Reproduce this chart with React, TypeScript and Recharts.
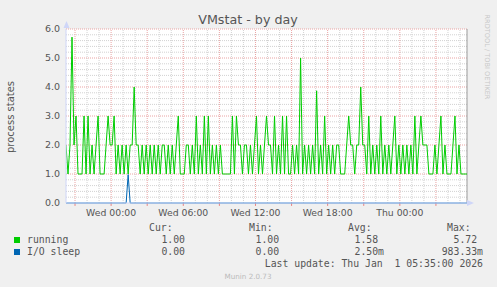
import { LineChart, Line, XAxis, YAxis, ReferenceLine } from "recharts";

// running processes, one sample every 10 minutes, from Tue 20:15 to Thu 05:35
const STEP = 10;
const running = [
  2, 1, 2, 5.72, 2, 3, 1, 1, 1, 3, 1, 3, 1, 2, 1, 2, 3, 1, 1, 1,
  2, 3, 2, 2, 3, 1, 2, 1, 2, 1, 2, 1, 2, 2, 4, 2, 2, 1, 2, 1,
  2, 1, 2, 1, 2, 1, 2, 1, 2, 2, 1, 2, 1, 2, 1, 2, 3, 1, 1, 1,
  2, 2, 1, 2, 1, 3, 1, 2, 1, 3, 1, 3, 1, 2, 1, 2, 1, 2, 1, 1,
  1, 1, 1, 3, 1, 3, 2, 2, 1, 2, 2, 1, 2, 1, 2, 3, 1, 2, 1, 2,
  3, 2, 2, 1, 3, 1, 2, 1, 3, 1, 3, 1, 1, 2, 1, 2, 1, 5, 1, 2,
  1, 2, 1, 2, 1, 3.87, 1, 2, 1, 3, 1, 2, 1, 2, 1, 2, 2, 1, 1, 1,
  2, 3, 2, 2, 1, 2, 2, 4, 2, 2, 1, 3, 1, 2, 1, 2, 1, 3, 1, 2,
  1, 2, 1, 2, 3, 1, 2, 1, 2, 1, 2, 1, 2, 1, 3, 1, 2, 3, 2, 2,
  2, 1, 1, 1, 2, 1, 2, 3, 1, 2, 1, 1, 1, 2, 3, 1, 2, 1, 1, 1,
  1,
];

// I/O sleep is zero except one short blip
const ioSleepTimes = [0, 300, 310, 320, 2000];
const ioSleepValues = [0, 0, 0.98, 0, 0];

const timeTicks = [225, 585, 945, 1305, 1665];
const timeLabels = ["Wed 00:00", "Wed 06:00", "Wed 12:00", "Wed 18:00", "Thu 00:00"];
const yTicks = [0, 1, 2, 3, 4, 5, 6];

const legendRows = [
  { name: "running", color: "#00cc00", cur: "1.00", min: "1.00", avg: "1.58", max: "5.72" },
  { name: "I/O sleep", color: "#0066b3", cur: "0.00", min: "0.00", avg: "2.50m", max: "983.33m" },
];

const hourLines = Array.from({ length: 33 }, (_, k) => 45 + 60 * k);
const majorTime = hourLines.filter((t) => (t - 225) % 180 === 0);
const minorTime = hourLines.filter((t) => (t - 225) % 180 !== 0);
const minorY = Array.from({ length: 30 }, (_, k) => k / 5).filter((_, k) => k % 5 !== 0);
const majorY = [1, 2, 3, 4, 5, 6];

const rows = running.map((v, i) => ({ t: i * STEP, running: v }));
const ioRows = ioSleepTimes.map((t, i) => ({ t, io: ioSleepValues[i] }));

const MINOR = "#d2d2d2";
const MAJOR = "#eaa4a4";
const AXIS = "#cfd6f8";
const FONT = "#555";
const sans = "'DejaVu Sans', sans-serif";
const mono = "'DejaVu Sans Mono', monospace";

export default function App() {
  return (
    <div style={{ position: "absolute", left: 0, top: 0, width: 497, height: 287, background: "#f0f0f0" }}>
      <div style={{ position: "absolute", left: 0, top: 0 }}>
        <LineChart width={497} height={287} data={rows} margin={{ top: 29, right: 30, bottom: 64, left: 0 }}>
          <rect x={66} y={29} width={401} height={174} fill="#fff" />
          <XAxis
            dataKey="t"
            type="number"
            domain={[0, 2000]}
            allowDataOverflow
            ticks={timeTicks}
            interval={0}
            tickFormatter={(v) => timeLabels[timeTicks.indexOf(Number(v))] ?? ""}
            tick={{ fontSize: 9.3, fill: FONT, fontFamily: sans }}
            tickLine={false}
            tickSize={0}
            tickMargin={6}
            axisLine={{ stroke: AXIS }}
            height={20}
          />
          <YAxis
            type="number"
            domain={[0, 6]}
            ticks={yTicks}
            interval={0}
            tickFormatter={(v) => Number(v).toFixed(1)}
            tick={{ fontSize: 9.5, fill: FONT, fontFamily: sans }}
            tickLine={false}
            tickSize={0}
            tickMargin={6}
            axisLine={{ stroke: AXIS }}
            width={66}
          />
          {minorY.map((v) => (
            <ReferenceLine key={"my" + v} y={v} stroke={MINOR} strokeDasharray="1 1" />
          ))}
          {minorTime.map((t) => (
            <ReferenceLine key={"mt" + t} x={t} stroke={MINOR} strokeDasharray="1 1" />
          ))}
          {majorY.map((v) => (
            <ReferenceLine key={"My" + v} y={v} stroke={MAJOR} strokeDasharray="1 1" />
          ))}
          {majorTime.map((t) => (
            <ReferenceLine key={"Mt" + t} x={t} stroke={MAJOR} strokeDasharray="1 1" />
          ))}
          {majorTime.map((t) => (
            <ReferenceLine
              key={"tk" + t}
              segment={[{ x: t, y: 0 }, { x: t, y: -0.1 }]}
              stroke="#e88080"
              ifOverflow="visible"
            />
          ))}
          <ReferenceLine x={2000} stroke="#9a9a9a" />
          <Line
            type="linear"
            dataKey="running"
            stroke="#00cc00"
            strokeWidth={1}
            dot={false}
            isAnimationActive={false}
          />
          <Line
            type="linear"
            data={ioRows}
            dataKey="io"
            stroke="#0066b3"
            strokeWidth={1}
            dot={false}
            isAnimationActive={false}
          />
        </LineChart>
      </div>
      <svg width={497} height={287} style={{ position: "absolute", left: 0, top: 0, pointerEvents: "none" }}>
        <polygon points="66.5,21 63.5,28 69.5,28" fill={AXIS} />
        <polygon points="474,203 467,200 467,206" fill={AXIS} />
        <text x={248} y={24} textAnchor="middle" fontFamily={sans} fontSize={12.7} fill={FONT}>
          VMstat - by day
        </text>
        <text
          x={14}
          y={117}
          textAnchor="middle"
          fontFamily={sans}
          fontSize={10}
          fill={FONT}
          transform="rotate(-90 14 117)"
        >
          process states
        </text>
        <text
          x={485}
          y={57}
          textAnchor="middle"
          fontFamily={sans}
          fontSize={6.6}
          fill="#c8c8c8"
          transform="rotate(90 485 57)"
        >
          RRDTOOL / TOBI OETIKER
        </text>
        <g fontFamily={mono} fontSize={9.8} fill={FONT}>
          <text x={149} y={231}>Cur:</text>
          <text x={249} y={231}>Min:</text>
          <text x={348} y={231}>Avg:</text>
          <text x={447} y={231}>Max:</text>
          {legendRows.map((r, i) => {
            const y = 243 + i * 12;
            return (
              <g key={r.name}>
                <rect x={14} y={y - 6} width={6} height={6} fill={r.color} />
                <text x={27} y={y}>{r.name}</text>
                <text x={185} y={y} textAnchor="end">{r.cur.endsWith("m") ? r.cur : r.cur + " "}</text>
                <text x={285} y={y} textAnchor="end" xmlSpace="preserve">{r.min.endsWith("m") ? r.min : r.min + "\u00a0"}</text>
                <text x={384} y={y} textAnchor="end" xmlSpace="preserve">{r.avg.endsWith("m") ? r.avg : r.avg + "\u00a0"}</text>
                <text x={483} y={y} textAnchor="end" xmlSpace="preserve">{r.max.endsWith("m") ? r.max : r.max + "\u00a0"}</text>
              </g>
            );
          })}
          <text x={483} y={267} textAnchor="end" xmlSpace="preserve">
            Last update: Thu Jan  1 05:35:00 2026
          </text>
        </g>
        <text x={248} y={279} textAnchor="middle" fontFamily={sans} fontSize={7.2} fill="#bbb">
          Munin 2.0.73
        </text>
      </svg>
    </div>
  );
}
